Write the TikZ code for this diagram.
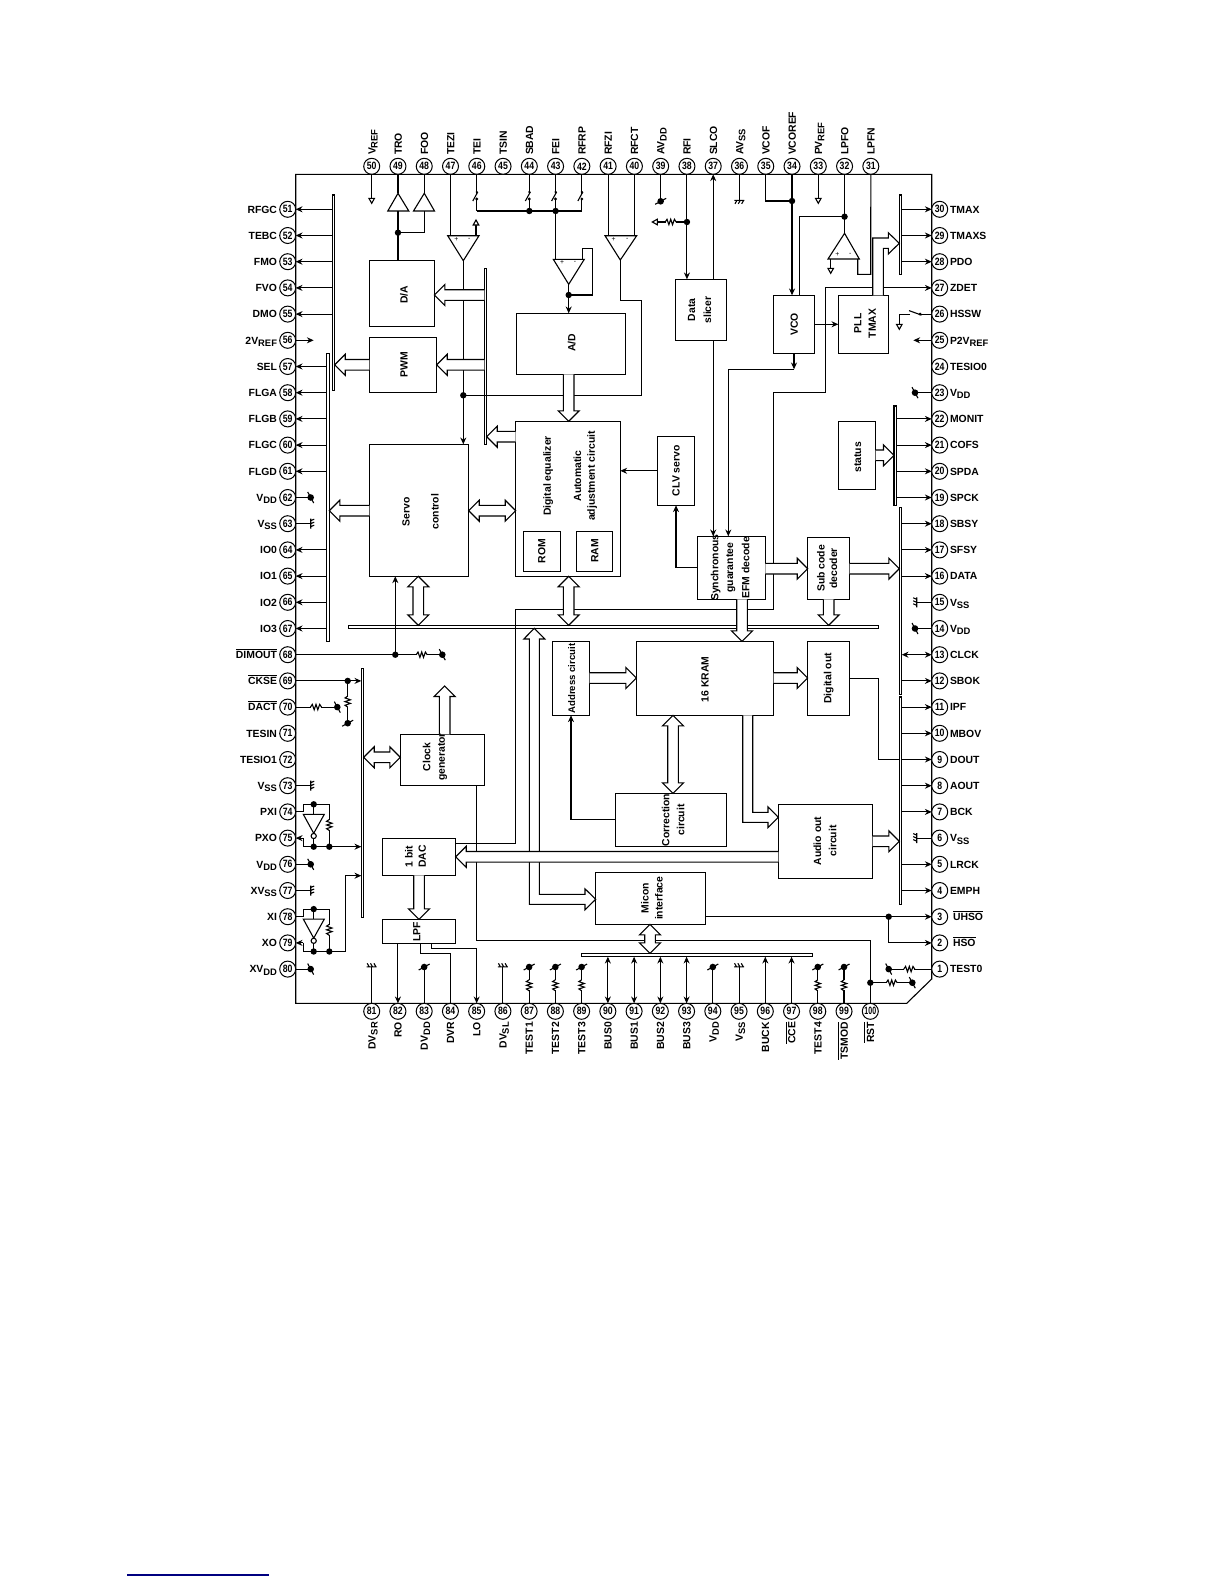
\documentclass[tikz,border=0pt]{standalone}
\usepackage{fontspec}
\setmainfont{Liberation Sans}
\usetikzlibrary{arrows.meta,calc}
\newcommand\subt[1]{\raisebox{-1.1pt}{\fontsize{4.7}{5}\selectfont #1}}
\newcommand\ol[1]{\leavevmode\vbox{\hrule height .4pt \kern .8pt\hbox{#1}}\hspace{1.5pt}}
\newcommand\pnum[1]{\scalebox{.82}[1]{#1}}
\tikzset{
  ln/.style={line width=.55pt},
  ar/.style={-{Stealth[length=3.4pt,width=3pt]}},
  rar/.style={{Stealth[length=3.4pt,width=3pt]}-},
  dar/.style={{Stealth[length=3.4pt,width=3pt]}-{Stealth[length=3.4pt,width=3pt]}},
  pin/.style={draw,circle,fill=white,minimum size=8pt,inner sep=0pt,outer sep=0pt,line width=.5pt,font=\fontsize{5.3}{6}\selectfont\bfseries},
  lab/.style={inner sep=0pt,outer sep=0pt,font=\fontsize{5.2}{6}\selectfont\bfseries},
  blockbox/.style={draw,fill=white,inner sep=0pt,outer sep=0pt,line width=.55pt},
  vt/.style={inner sep=0pt,outer sep=0pt,rotate=90,font=\fontsize{5.2}{6}\selectfont\bfseries},
  barr/.style={draw,fill=white,line width=.55pt,line join=miter},
}
\newcommand\blk[5]{\pgfmathsetmacro\bw{(#4-#2)*0.5}\pgfmathsetmacro\bh{(#5-#3)*0.5}%
  \node[blockbox,minimum width=\bw pt,minimum height=\bh pt] (#1) at ({(#2+#4)/2},{(#3+#5)/2}) {};}
% block arrows between coordinates (axis aligned)
\newcommand\harr[2]{\path[barr] let \p1=#1,\p2=#2,\n1={((\x2>\x1)?1:-1)*5.25pt} in
  (\x1,\y1-2.65pt) -- (\x2-\n1,\y1-2.65pt) -- (\x2-\n1,\y1-5.25pt) -- (\x2,\y1) -- (\x2-\n1,\y1+5.25pt) -- (\x2-\n1,\y1+2.65pt) -- (\x1,\y1+2.65pt);}
\newcommand\varr[2]{\path[barr] let \p1=#1,\p2=#2,\n1={((\y2>\y1)?1:-1)*5.25pt} in
  (\x1-2.65pt,\y1) -- (\x1-2.65pt,\y2-\n1) -- (\x1-5.25pt,\y2-\n1) -- (\x1,\y2) -- (\x1+5.25pt,\y2-\n1) -- (\x1+2.65pt,\y2-\n1) -- (\x1+2.65pt,\y1);}
\newcommand\hdarr[2]{\path[barr] let \p1=#1,\p2=#2,\n1={5.25pt} in
  (\x1,\y1) -- (\x1+\n1,\y1+5.25pt) -- (\x1+\n1,\y1+2.65pt) -- (\x2-\n1,\y1+2.65pt) -- (\x2-\n1,\y1+5.25pt) -- (\x2,\y1) -- (\x2-\n1,\y1-5.25pt) -- (\x2-\n1,\y1-2.65pt) -- (\x1+\n1,\y1-2.65pt) -- (\x1+\n1,\y1-5.25pt) -- cycle;}
\newcommand\vdarr[2]{\path[barr] let \p1=#1,\p2=#2,\n1={-5.25pt} in
  (\x1,\y1) -- (\x1+5.25pt,\y1+\n1) -- (\x1+2.65pt,\y1+\n1) -- (\x1+2.65pt,\y2-\n1) -- (\x1+5.25pt,\y2-\n1) -- (\x1,\y2) -- (\x1-5.25pt,\y2-\n1) -- (\x1-2.65pt,\y2-\n1) -- (\x1-2.65pt,\y1+\n1) -- (\x1-5.25pt,\y1+\n1) -- cycle;}
\newcommand\dotat[1]{\fill (#1) circle[radius=1.6pt];}
\newcommand\vddV[1]{\fill (#1) circle[radius=1.65pt];\draw[ln] ([shift={(-5.5,3)}]#1) -- ([shift={(5.5,-3)}]#1);}
\newcommand\vddH[1]{\fill (#1) circle[radius=1.65pt];\draw[ln] ([shift={(-3,-5.5)}]#1) -- ([shift={(3,5.5)}]#1);}
\newcommand\gndV[2]{\draw[ln] ([shift={(-5,0)}]#1) -- ([shift={(5,0)}]#1)
  ([shift={(-2.5,0)}]#1) -- ([shift={(-4.5,#2)}]#1) ([shift={(.8,0)}]#1) -- ([shift={(-1.2,#2)}]#1) ([shift={(4.2,0)}]#1) -- ([shift={(2.2,#2)}]#1);}
\newcommand\gndH[2]{\draw[ln] ([shift={(0,-5)}]#1) -- ([shift={(0,5)}]#1)
  ([shift={(0,-3)}]#1) -- ([shift={(#2,-4.5)}]#1) ([shift={(0,0)}]#1) -- ([shift={(#2,-1.5)}]#1) ([shift={(0,3)}]#1) -- ([shift={(#2,1.5)}]#1);}
\newcommand\resH[1]{\fill[white] ([shift={(-5,-2)}]#1) rectangle ([shift={(5,2)}]#1);
  \draw[ln] ([shift={(-5.5,0)}]#1) -- ([shift={(-3.7,-2.7)}]#1) -- ([shift={(-1.8,2.7)}]#1) -- ([shift={(0,-2.7)}]#1) -- ([shift={(1.8,2.7)}]#1) -- ([shift={(3.7,-2.7)}]#1) -- ([shift={(5.5,0)}]#1);}
\newcommand\resV[1]{\fill[white] ([shift={(-2,-5)}]#1) rectangle ([shift={(2,5)}]#1);
  \draw[ln] ([shift={(0,-5.5)}]#1) -- ([shift={(-2.7,-3.7)}]#1) -- ([shift={(2.7,-1.8)}]#1) -- ([shift={(-2.7,0)}]#1) -- ([shift={(2.7,1.8)}]#1) -- ([shift={(-2.7,3.7)}]#1) -- ([shift={(0,5.5)}]#1);}
\newcommand\triD[1]{\draw[ln,fill=white] ([shift={(-2.8,0)}]#1) -- ([shift={(2.8,0)}]#1) -- ([shift={(0,5)}]#1) -- cycle;}
\newcommand\triU[1]{\draw[ln,fill=white] ([shift={(-2.8,0)}]#1) -- ([shift={(2.8,0)}]#1) -- ([shift={(0,-5)}]#1) -- cycle;}
\newcommand\swV[1]{\fill[white] ([shift={(-1.2,1.5)}]#1) rectangle ([shift={(1.2,8)}]#1);
  \draw[ln] ([shift={(1,0)}]#1) -- ([shift={(-4,9)}]#1); \fill ([shift={(0,0)}]#1) circle[radius=.6pt] ([shift={(0,7)}]#1) circle[radius=.8pt];}
\begin{document}
\begin{tikzpicture}[x=.5pt,y=-.5pt,ln]
\useasboundingbox (0,0) rectangle (1224,1584);
\fill[white] (0,0) rectangle (1224,1584);
% footer rule
\coordinate (fa) at (127,1575); \coordinate (fb) at (269,1575);
\draw[line width=.75pt,color={rgb,255:red,0;green,0;blue,128}] (fa) -- (fb);
% chip outline
\draw[ln] (295.7,174.3) -- (931.7,174.3) -- (931.7,979) -- (906.7,1003.3) -- (295.7,1003.3) -- cycle;
% pins and labels
\foreach \n/\t in {51/RFGC,52/TEBC,53/FMO,54/FVO,55/DMO,56/{2V\subt{REF}},57/SEL,58/FLGA,59/FLGB,60/FLGC,61/FLGD,62/{V\subt{DD}},63/{V\subt{SS}},64/IO0,65/IO1,66/IO2,67/IO3,68/{\ol{DIMOUT}},69/{\ol{CKSE}},70/{\ol{DACT}},71/TESIN,72/TESIO1,73/{V\subt{SS}},74/PXI,75/PXO,76/{V\subt{DD}},77/{XV\subt{SS}},78/XI,79/XO,80/{XV\subt{DD}}}{
  \pgfmathsetmacro\yy{209.3+(\n-51)*26.2}
  \node[pin] (p\n) at (287.7,\yy) {\pnum{\n}};
  \node[lab,anchor=base east] (l\n) at (277,\yy+3.8) {\t};
}
\foreach \n/\t in {30/TMAX,29/TMAXS,28/PDO,27/ZDET,26/HSSW,25/{P2V\subt{REF}},24/TESIO0,23/{V\subt{DD}},22/MONIT,21/COFS,20/SPDA,19/SPCK,18/SBSY,17/SFSY,16/DATA,15/{V\subt{SS}},14/{V\subt{DD}},13/CLCK,12/SBOK,11/IPF,10/MBOV,9/DOUT,8/AOUT,7/BCK,6/{V\subt{SS}},5/LRCK,4/EMPH,3/{\hspace{1.5pt}\ol{UHSO}},2/{\hspace{1.5pt}\ol{HSO}},1/TEST0}{
  \pgfmathsetmacro\yy{209.3+(30-\n)*26.2}
  \node[pin] (p\n) at (939.7,\yy) {\pnum{\n}};
  \node[lab,anchor=base west] (l\n) at (950,\yy+3.8) {\t};
}
\foreach \n/\t in {50/{V\subt{REF}},49/TRO,48/FOO,47/TEZI,46/TEI,45/TSIN,44/SBAD,43/FEI,42/RFRP,41/RFZI,40/RFCT,39/{AV\subt{DD}},38/RFI,37/SLCO,36/{AV\subt{SS}},35/VCOF,34/VCOREF,33/{PV\subt{REF}},32/LPFO,31/LPFN}{
  \pgfmathsetmacro\xx{371.7+(50-\n)*26.27}
  \node[pin] (p\n) at (\xx,166.3) {\pnum{\n}};
  \node[lab,rotate=90,anchor=base west] (l\n) at (\xx+3.8,155) {\t};
}
\foreach \n/\t in {81/{DV\subt{SR}},82/RO,83/{DV\subt{DD}},84/DVR,85/LO,86/{DV\subt{SL}},87/TEST1,88/TEST2,89/TEST3,90/BUS0,91/BUS1,92/BUS2,93/BUS3,94/{V\subt{DD}},95/{V\subt{SS}},96/BUCK,97/{\ol{CCE}},98/TEST4,99/{\ol{TSMOD}}}{
  \pgfmathsetmacro\xx{371.7+(\n-81)*26.24}
  \node[pin] (p\n) at (\xx,1011.3) {\pnum{\n}};
  \node[lab,rotate=90,anchor=base east] (l\n) at (\xx+3.8,1022) {\t};
}
\node[pin] (p100) at (870.3,1011.3) {\scalebox{.66}[1]{100}};
\node[lab,rotate=90,anchor=base east] (l100) at (874.1,1022) {\ol{RST}};
% buses
\blk{busA}{332.3}{195}{334.7}{390.7}
\blk{busB}{326.7}{353.3}{329.3}{641.7}
\blk{busC}{484.3}{268.3}{486.7}{444.3}
\blk{busD}{361.3}{668.3}{363.7}{917.7}
\blk{mainbus}{348.3}{625.3}{878.7}{628.7}
\blk{botbus}{581.3}{953.3}{812.7}{956.7}
\blk{busRa}{899.3}{195}{901.7}{274.7}
\blk{busRb}{894}{406}{896.3}{505.7}
\blk{busRc}{899.3}{507.3}{901.7}{694.3}
\blk{busRd}{899.3}{697}{901.7}{904.7}
% pin connectors to buses
\foreach \n in {51,52,53,54,55}{\draw[ar] (busA.west |- p\n) -- (p\n.east);}
\foreach \n in {57,58,59,60,61,64,65,66,67}{\draw[ar] (busB.west |- p\n) -- (p\n.east);}
\foreach \n in {30,29,28}{\draw[ar] (busRa.east |- p\n) -- (p\n.west);}
\foreach \n in {22,21,20,19}{\draw[ar] (busRb.east |- p\n) -- (p\n.west);}
\foreach \n in {18,17,16,12}{\draw[ar] (busRc.east |- p\n) -- (p\n.west);}
\draw[dar] (busRc.east |- p13) -- (p13.west);
\foreach \n in {11,10,9,8,7,5,4}{\draw[ar] (busRd.east |- p\n) -- (p\n.west);}
\foreach \n in {90,91,92,93}{\draw[dar] (p\n.north) -- (p\n |- botbus.south);}
\foreach \n in {96,97}{\draw[ar] (p\n.north) -- (p\n |- botbus.south);}
% power and ground stubs
\foreach \n in {62,76,80}{\draw[ln] (p\n.east) -- ++(15,0) coordinate (s\n); \vddH{s\n}}
\foreach \n in {63,73,77}{\draw[ln] (p\n.east) -- ++(15,0) coordinate (s\n); \gndH{s\n}{3.5}}
\foreach \n in {23,14}{\draw[ln] (p\n.west) -- ++(-16.7,0) coordinate (s\n); \vddH{s\n}}
\foreach \n in {15,6}{\draw[ln] (p\n.west) -- ++(-15,0) coordinate (s\n); \gndH{s\n}{-3.5}}
\foreach \n in {83,94}{\draw[ln] (p\n.north) -- ++(0,-36.3) coordinate (s\n); \vddV{s\n}}
\foreach \n in {81,86,95}{\draw[ln] (p\n.north) -- ++(0,-36.5) coordinate (s\n); \gndV{s\n}{-3.5}}
\foreach \n in {87,88,89,98,99}{\draw[ln] (p\n.north) -- ++(0,-18) coordinate (r\n) -- ++(0,-18.3) coordinate (s\n); \resV{r\n}\vddV{s\n}}
\draw[ln] (p39.south) -- ++(0,27) coordinate (s39); \vddV{s39}
\draw[ln] (p36.south) -- ++(0,26) coordinate (s36); \gndV{s36}{3.5}
% top left: VREF, buffers
\draw[ln] (p50.south) -- ++(0,24) coordinate (t50); \triD{t50}
\coordinate (dab) at (p49 |- 0,232.7);
\draw[ln] (p49.south) -- ++(0,19);
\draw[ln] (p48.south) -- ++(0,19);
\draw[ln,fill=white] (387.8,211) -- (408.8,211) -- (398,193.3) -- cycle;
\draw[ln,fill=white] (413.5,211) -- (434.5,211) -- (424.3,193.3) -- cycle;
\draw[ln] (p49 |- 0,211) -- (dab);
\draw[ln] (p48 |- 0,211) |- (dab);
\dotat{dab}
% TEZI/TEI comparator
\coordinate (cmpa) at (463.3,260.7);
\draw[ln] (p47.south) -- ++(0,61.4);
\draw[ln] (447.7,235.7) -- (479,235.7) -- (cmpa) -- cycle;
\node[lab,font=\fontsize{3.4}{4}\selectfont] (cap) at (456.3,239.5) {+};
\node[lab,font=\fontsize{3.4}{4}\selectfont] (cam) at (469.3,239.5) {-};
\coordinate (t46) at (476,225); \draw[ln] (t46) -- ++(0,10.7); \triU{t46}
% switches
\coordinate (swbus) at (476,211);
\foreach \n in {46,44,43,42}{\draw[ln] (p\n.south) -- (p\n |- swbus); \coordinate (w\n) at (p\n |- 0,192); \swV{w\n}}
\draw[ln] (p46 |- swbus) -- (p42 |- swbus);
\coordinate (d44) at (p44 |- swbus); \dotat{d44}
\coordinate (d43) at (p43 |- swbus); \dotat{d43}
% FEI comparator
\coordinate (cmpc) at (568.7,284.3);
\draw[ln] (d43) -- (p43 |- 0,259.3);
\draw[ln] (553.3,259.3) -- (584.3,259.3) -- (cmpc) -- cycle;
\node[lab,font=\fontsize{3.4}{4}\selectfont] (ccp) at (562,262.9) {+};
\node[lab,font=\fontsize{3.4}{4}\selectfont] (ccm) at (575,262.9) {-};
\coordinate (dfb) at (568.7,295);
\draw[ln] (582.3,259.3) -- (582.3,248.3) -- (592.3,248.3) -- (592.3,295) -- (dfb);
\draw[ln] (cmpc) -- (dfb);
% blocks
\blk{da}{369.3}{260.3}{434.3}{326.3}
\blk{pwm}{369.3}{337.3}{436.7}{392.3}
\blk{ad}{516.3}{313.3}{625.3}{374.3}
\blk{dig}{515.7}{421.3}{620.3}{576.3}
\blk{rom}{523.3}{531.3}{560.7}{571.3}
\blk{ram}{576.3}{531.3}{612.3}{571.3}
\blk{servo}{369.3}{444.3}{468.7}{576.3}
\blk{slicer}{675.3}{279.3}{726.7}{340.7}
\blk{vco}{773.3}{295.3}{814.7}{353.3}
\blk{pll}{838.3}{295.3}{888.7}{353.3}
\blk{status}{838.3}{421.3}{875.7}{489.3}
\blk{clv}{657.3}{436.3}{694.7}{505.3}
\blk{sync}{697.3}{536.3}{765.3}{599.3}
\blk{subc}{807.7}{537.3}{849.7}{599.3}
\blk{kram}{636.3}{641.3}{773.7}{715.3}
\blk{dout}{807.7}{641.3}{849.7}{715.3}
\blk{addr}{552.3}{641.3}{589.7}{715.3}
\blk{corr}{615.3}{793.3}{726.7}{846.3}
\blk{audio}{778.3}{804.3}{872.7}{878.3}
\blk{clock}{400.3}{734.3}{484.7}{785.3}
\blk{dac}{382.3}{838.3}{455.7}{875.3}
\blk{lpf}{382.3}{919.3}{455.7}{943.3}
\blk{micon}{595.8}{872.3}{705.7}{924.3}
% connectors
\draw[ln] (dab) -- (da.north -| dab);
\draw[ar] (dfb) -- (ad.north -| dfb); \dotat{dfb}
\coordinate (d47) at (cmpa |- 0,395.3);
\draw[ar] (cmpa) -- (servo.north -| cmpa);
\coordinate (k1) at (641.3,300.3); \coordinate (cmpb) at (620.3,260);
\draw[ln] (d47) -| (k1) -| (cmpb); \dotat{d47}
\draw[ln] (p41.south) -- ++(0,61.4);
\draw[ln] (p40.south) -- ++(0,61.4);
\draw[ln] (605,235.7) -- (636.7,235.7) -- (cmpb) -- cycle;
\node[lab,font=\fontsize{3.4}{4}\selectfont] (cbp) at (613.7,239.5) {+};
\node[lab,font=\fontsize{3.4}{4}\selectfont] (cbm) at (627.3,239.5) {-};
\draw[ar] (p38.south) -- (slicer.north -| p38);
\coordinate (d38) at (p38 |- 0,222);
\coordinate (r38) at (670.7,222); \coordinate (t38) at (657.3,222);
\draw[ln] (d38) -- (t38); \resH{r38} \dotat{d38}
\draw[ln,fill=white] (t38) -- ++(0,-2.8) -- ++(-5,2.8) -- ++(5,2.8) -- cycle;
\draw[ar] (slicer.north -| p37) -- (p37.south);
\draw[ar] (slicer.south -| p37) -- (sync.north -| p37);
\coordinate (d34) at (p34 |- 0,201);
\draw[ar] (p34.south) -- (vco.north -| p34);
\draw[ln] (p35.south) |- (d34); \dotat{d34}
\draw[ln] (p33.south) -- ++(0,24) coordinate (t33); \triD{t33}
\coordinate (d32) at (p32 |- 0,216.7); \coordinate (opa) at (p32 |- 0,233.3);
\draw[ln] (p32.south) -- (opa);
\draw[ln] (828,259) -- (859.3,259) -- (opa) -- cycle;
\node[lab,font=\fontsize{3.4}{4}\selectfont] (opp) at (837.3,254.5) {+};
\node[lab,font=\fontsize{3.4}{4}\selectfont] (opm) at (850.3,254.5) {-};
\coordinate (vt1) at (799.3,295.3);
\draw[ln] (d32) -| (vt1); \dotat{d32}
\coordinate (t32) at (830.7,268.3); \draw[ln] (830.7,259) -- (t32); \triD{t32}
\coordinate (q31) at (857.7,259);
\draw[ln] (q31) |- (870.7,274.3) -- (p31.south);
\draw[ar] (vco.east) -- (pll.west);
\draw[ar] (vco.south) -- ++(0,16) coordinate (v1);
\coordinate (sy1) at (728.3,536.3);
\draw[ar] (v1) -| (sy1);
\coordinate (dacz) at (dac.east |- 0,843.3); \coordinate (z1) at (515.7,609.3); \coordinate (z2) at (773.3,392.3); \coordinate (z3) at (825.7,0 |- p27);
\draw[ar] (dacz) -| (z1) -| (z2) -| (z3) -- (p27.west);
% HSSW
\coordinate (w26a) at (920,0 |- p26); \coordinate (w26b) at (910,0 |- p26); \coordinate (t26) at (899.3,324.3);
\draw[ln] (p26.west) -- (w26a);
\draw[ln] ([shift={(1.5,1)}]w26a) -- ([shift={(-1,-3.5)}]w26b);
\draw[ln] (w26b) -- (t26 |- w26b) -- (t26); \triD{t26}
\fill (w26a) circle[radius=.8pt];
\draw[ar] (p25.west) -- ++(-18.4,0);
\draw[ar] (p56.east) -- ++(18,0);
% right side small logic
\draw[ln] (dout.east) -| (878.3,0 |- p9) -- (busRd.west |- p9);
\coordinate (d3) at (888.7,0 |- p3);
\draw[ar] (micon.east |- p3) -- (p3.west);
\draw[ar] (d3) |- (p2.west); \dotat{d3}
\draw[ln] (p1.west) -- ++(-22.4,0) coordinate (r1) -- ++(-20.6,0) coordinate (s1); \resH{r1}\vddH{s1}
\coordinate (d100) at (p100 |- 0,982.7); \coordinate (ckb) at (476.3,785.3); \coordinate (cx) at (ckb |- 0,940.3);
\draw[ln] (p100.north) |- (cx) -- (ckb);
\dotat{d100}
\draw[ln] (d100) -- ++(21.4,0) coordinate (r100) -- ++(20.6,0) coordinate (s100); \resH{r100}\vddH{s100}
% left side small logic
\coordinate (d68) at (395.3,0 |- p68);
\draw[ln] (p68.east) -- (d68) -- ++(26.4,0) coordinate (r68) -- ++(20.6,0) coordinate (s68); \resH{r68}\vddH{s68}\dotat{d68}
\draw[ar] (d68) -- (servo.south -| d68);
\coordinate (d69) at (347.7,0 |- p69);
\draw[ar] (p69.east) -- (busD.west |- p69); \dotat{d69}
\draw[ln] (d69) -- ++(0,20.7) coordinate (r69) -- ++(0,21.6) coordinate (s69); \resV{r69}\vddV{s69}
\draw[ln] (p70.east) -- ++(20.3,0) coordinate (r70) -- ++(21.3,0) coordinate (s70); \resH{r70}\vddH{s70}
\foreach \dy/\a/\b in {0/74/75,104.8/78/79}{
  \coordinate (ia) at (303.7,804.3+\dy); \coordinate (ib) at (329.3,804.3+\dy);
  \coordinate (ic) at (329.3,846.7+\dy); \coordinate (id) at (313.7,846.7+\dy); \coordinate (ie) at (313.7,804.3+\dy);
  \draw[ln] (p\a.east) -| (ia) -- (ib) -- (ic);
  \draw[ln] (ie) -- (313.7,814.3+\dy);
  \draw[ln] (303.3,814.3+\dy) -- (324.3,814.3+\dy) -- (313.7,833.3+\dy) -- cycle;
  \draw[ln,fill=white] (313.7,836+\dy) circle[radius=1.3pt];
  \draw[ln] (313.7,838.5+\dy) -- (id);
  \draw[ln] (ic) -- (303.3,846.7+\dy) |- (303.3,0 |- p\b);
  \draw[ar] (303.3,0 |- p\b) -- (p\b.east);
  \coordinate (ir) at (329.3,825+\dy); \resV{ir}
  \dotat{ie}\dotat{ic}\dotat{id}
}
\coordinate (i75) at (329.3,846.7);
\draw[ar] (i75) -- (busD.west |- i75);
\coordinate (i79) at (329.3,951.5); \coordinate (i79b) at (345.3,875.7);
\draw[ln] (i79) -| (i79b);
\draw[ar] (i79b) -- (busD.west |- i79b);
% LPF
\draw[ar] (p82 |- lpf.south) -- (p82.north);
\coordinate (l84) at (420.3,943.3); \coordinate (l85) at (431.7,943.3);
\draw[ln] (l84) |- (p84 |- 0,953.3) -- (p84.north);
\draw[ar] (l85) |- (p85 |- 0,948.3) -- (p85.north);
% CLV, sync, address
\draw[ar] (clv.west) -- (dig.east |- clv);
\draw[ar] (sync.west) -| (clv.south);
\draw[ar] (corr.west) -| (addr.south);
% block arrows
\coordinate (yse) at (0,510.7);
\hdarr{(servo.east |- yse)}{(dig.west |- yse)}
\harr{(servo.west |- yse)}{(busB.east |- yse)}
\harr{(pwm.west)}{(busA.east |- pwm)}
\coordinate (yda) at (0,295);
\harr{(busC.west |- yda)}{(da.east |- yda)}
\harr{(busC.west |- pwm)}{(pwm.east)}
\coordinate (ydg) at (0,436.7);
\harr{(dig.west |- ydg)}{(busC.east |- ydg)}
\varr{(ad.south -| dfb)}{(dig.north -| dfb)}
\coordinate (xs) at (418.3,0);
\vdarr{(servo.south -| xs)}{(mainbus.north -| xs)}
\vdarr{(dig.south -| dfb)}{(mainbus.north -| dfb)}
\coordinate (yck) at (0,757.3);
\hdarr{(busD.east |- yck)}{(clock.west |- yck)}
\coordinate (xck) at (444.7,0); \coordinate (ytip) at (0,686);
\varr{(clock.north -| xck)}{(xck |- ytip)}
\varr{(dac.south)}{(lpf.north)}
\coordinate (ysy) at (0,568.7);
\harr{(sync.east |- ysy)}{(subc.west |- ysy)}
\harr{(subc.east |- ysy)}{(busRc.west |- ysy)}
\coordinate (xsy) at (742,0);
\varr{(sync.south -| xsy)}{(kram.north -| xsy)}
\varr{(subc.south)}{(mainbus.north -| subc)}
\harr{(status.east)}{(busRb.west |- status)}
\coordinate (ykr) at (0,678);
\harr{(addr.east |- ykr)}{(kram.west |- ykr)}
\harr{(kram.east |- ykr)}{(dout.west |- ykr)}
\harr{(audio.east)}{(busRd.west |- audio)}
\coordinate (xko) at (673,0);
\vdarr{(kram.south -| xko)}{(corr.north -| xko)}
\coordinate (xmi) at (650,0);
\vdarr{(micon.south -| xmi)}{(botbus.north -| xmi)}
% L shaped block arrows
\path[barr] (872.7,295.3) -- (872.7,238) -- (888.3,238) -- (888.3,232.7) -- (899.3,243.3) -- (888.3,254) -- (888.3,248.3) -- (883.3,248.3) -- (883.3,295.3);
\path[barr] (742.7,715.3) -- (742.7,822.3) -- (768,822.3) -- (768,827.6) -- (778.3,817.3) -- (768,806.8) -- (768,812.3) -- (752.7,812.3) -- (752.7,715.3);
\path[barr] (529.3,639) -- (523.8,639) -- (534.3,628.3) -- (544.8,639) -- (539.3,639) -- (539.3,894.3) -- (585,894.3) -- (585,888.8) -- (595.7,899.3) -- (585,909.8) -- (585,904.3) -- (529.3,904.3) -- cycle;
\coordinate (yau) at (0,856.8);
\harr{(audio.west |- yau)}{(dac.east |- yau)}
% block captions
\node[vt] (tda) at (404,295) {D/A};
\node[vt] (tpwm) at (404,365) {PWM};
\node[vt] (tad) at (571.7,342.7) {A/D};
\node[vt] (tdig) at (548.3,476) {Digital equalizer};
\node[vt] (tauto) at (577.3,476) {Automatic};
\node[vt] (tadj) at (592.3,476) {adjustment circuit};
\node[vt] (trom) at (541.7,551) {ROM};
\node[vt] (tram) at (594.7,551) {RAM};
\node[vt] (tserv) at (406,511.7) {Servo};
\node[vt] (tctrl) at (435,511.7) {control};
\node[vt] (tdata) at (691.7,310) {Data};
\node[vt] (tslic) at (707.3,310) {slicer};
\node[vt] (tvco) at (794.3,324.3) {VCO};
\node[vt] (tpll) at (857.7,323.3) {PLL};
\node[vt] (ttmax) at (872.3,323.3) {TMAX};
\node[vt] (tstat) at (857.7,457.3) {status};
\node[vt] (tclv) at (676,470.7) {CLV servo};
\node[vt] (tsyn) at (715.7,567.7) {Synchronous};
\node[vt] (tgua) at (730.7,567.7) {guarantee};
\node[vt] (tefm) at (745.7,567.7) {EFM decode};
\node[vt] (tsub) at (821,568.3) {Sub code};
\node[vt] (tdec) at (833.3,568.3) {decoder};
\node[vt] (tkram) at (705,679.3) {16 KRAM};
\node[vt] (tdout) at (828.7,678.3) {Digital out};
\node[vt,font=\fontsize{4.8}{6}\selectfont\bfseries] (taddr) at (571.7,678.7) {Address circuit};
\node[vt] (tcorr) at (665.7,820) {Correction};
\node[vt] (tcirc) at (680.7,820) {circuit};
\node[vt] (taud) at (817.3,841) {Audio out};
\node[vt] (tcirb) at (832.7,841) {circuit};
\node[vt] (tclk) at (426.7,757) {Clock};
\node[vt] (tgen) at (442.7,757) {generator};
\node[vt] (tbit) at (409,856.7) {1 bit};
\node[vt] (tdac) at (422.3,856.7) {DAC};
\node[vt] (tlpf) at (416.7,931.7) {LPF};
\node[vt] (tmic) at (645,898.3) {Micon};
\node[vt] (tint) at (659,898.3) {interface};
\end{tikzpicture}
\end{document}
